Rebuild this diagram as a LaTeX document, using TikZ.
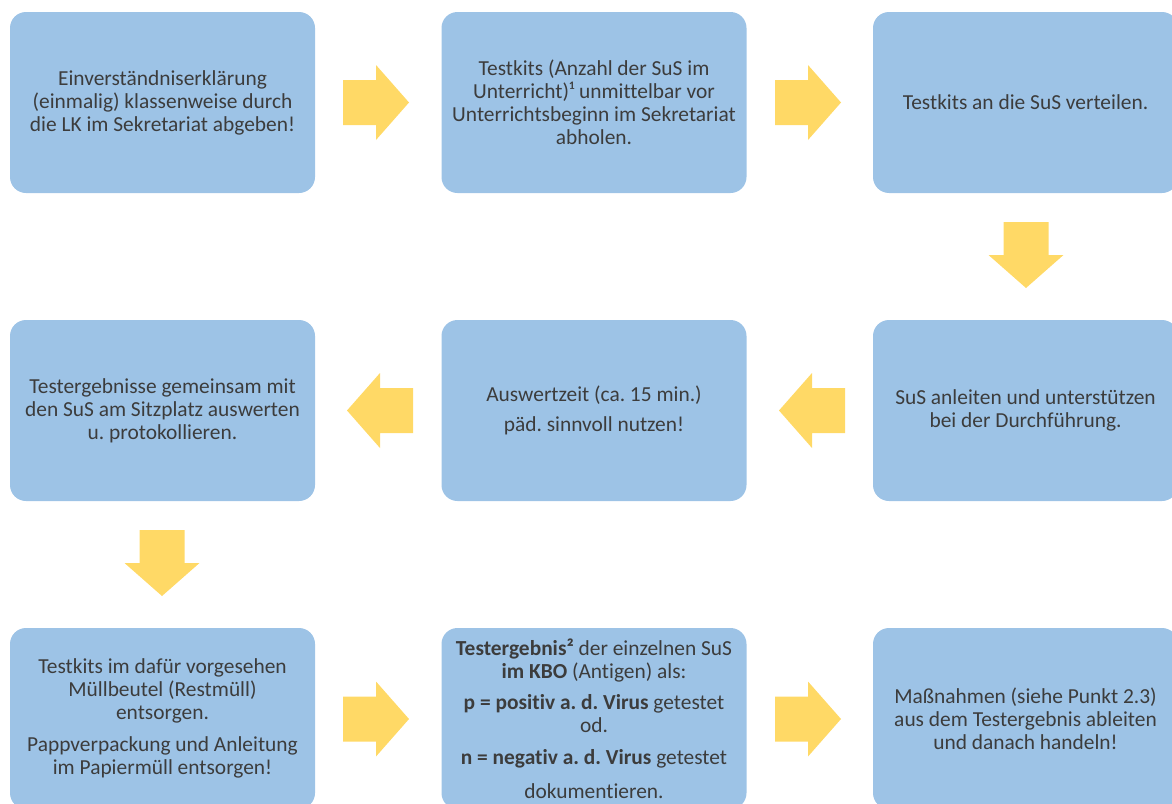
\documentclass[tikz,border=0pt]{standalone}
\usepackage{fontspec}
\setmainfont{Carlito}[Ligatures=NoCommon]
\frenchspacing
\definecolor{boxblue}{HTML}{9DC3E6}
\definecolor{arrowyellow}{HTML}{FFD966}
\definecolor{txtgray}{HTML}{3C3C3C}
\tikzset{
  flowbox/.style={fill=boxblue, draw=none, rounded corners=16pt, minimum width=305pt, minimum height=181pt, inner sep=0pt, text=txtgray, align=center, font=\fontsize{21.4}{23}\selectfont\frenchspacing},
  pics/blockarrow/.style={code={
    \fill[arrowyellow] (-33,-22.5) -- (0,-22.5) -- (0,-37.5) -- (33,0) -- (0,37.5) -- (0,22.5) -- (-33,22.5) -- cycle;
  }}
}
\begin{document}
\begin{tikzpicture}[x=1pt,y=-1pt]
\useasboundingbox (0,0) rectangle (1172,803);
\clip (0,0) rectangle (1172,803);
% boxes
\node[flowbox] (b1) at (162.5,102.5) {Einverständniserklärung\\(einmalig) klassenweise durch\\die LK im Sekretariat abgeben!};
\node[flowbox] (b2) at (594,102.5) {Testkits (Anzahl der SuS im\\Unterricht)¹ unmittelbar vor\\Unterrichtsbeginn im Sekretariat\\abholen.};
\node[flowbox] (b3) at (1025.5,102.5) {Testkits an die SuS verteilen.};
\node[flowbox] (b4) at (162.5,410.5) {Testergebnisse gemeinsam mit\\den SuS am Sitzplatz auswerten\\u. protokollieren.};
\node[flowbox] (b5) at (594,410.5) {Auswertzeit (ca. 15 min.)\\[7pt]päd. sinnvoll nutzen!};
\node[flowbox] (b6) at (1025.5,410.5) {SuS anleiten und unterstützen\\bei der Durchführung.};
\node[flowbox] (b7) at (162.5,718.5) {Testkits im dafür vorgesehen\\Müllbeutel (Restmüll)\\entsorgen.\\[9pt]Pappverpackung und Anleitung\\im Papiermüll entsorgen!};
\node[flowbox] (b8) at (594,718.5) {\textbf{Testergebnis²} der einzelnen SuS\\\textbf{im KBO} (Antigen) als:\\[8pt]\textbf{p = positiv a. d. Virus} getestet\\od.\\[9pt]\textbf{n = negativ a. d. Virus} getestet\\[11pt]dokumentieren.};
\node[flowbox] (b9) at (1025.5,718.5) {Maßnahmen (siehe Punkt 2.3)\\aus dem Testergebnis ableiten\\und danach handeln!};
% block arrows
\pic at (376,102.5) {blockarrow};
\pic at (808,102.5) {blockarrow};
\pic[rotate=-90] at (1026,255) {blockarrow};
\pic[rotate=180] at (812,410.5) {blockarrow};
\pic[rotate=180] at (380,410.5) {blockarrow};
\pic[rotate=-90] at (162,563) {blockarrow};
\pic at (376,719) {blockarrow};
\pic at (808,719) {blockarrow};
\end{tikzpicture}
\end{document}
